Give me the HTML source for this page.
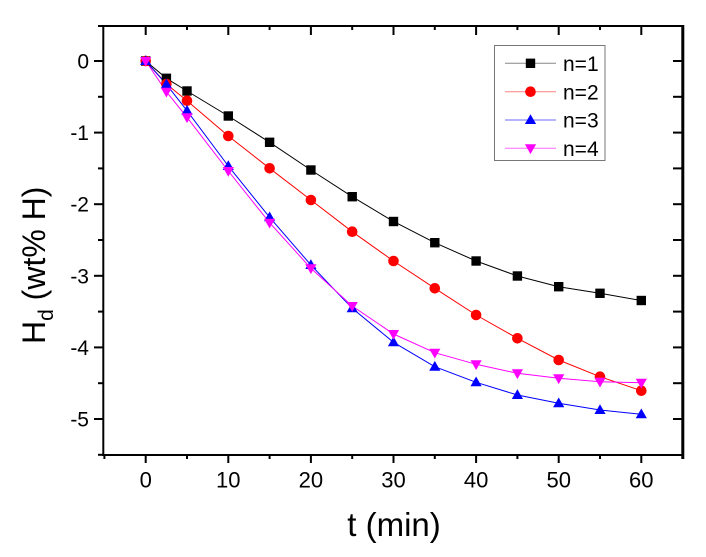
<!DOCTYPE html>
<html><head><meta charset="utf-8"><style>
html,body{margin:0;padding:0;background:#fff;}
svg{display:block;font-family:"Liberation Sans",Arial,sans-serif;}
</style></head><body>
<svg width="706" height="557" viewBox="0 0 706 557" xmlns="http://www.w3.org/2000/svg">
<rect x="0" y="0" width="706" height="557" fill="#fff"/>
<!-- ticks left (outward) -->
<g stroke="#000" stroke-width="2">
<line x1="94" y1="61" x2="103" y2="61"/>
<line x1="94" y1="132.6" x2="103" y2="132.6"/>
<line x1="94" y1="204.2" x2="103" y2="204.2"/>
<line x1="94" y1="275.8" x2="103" y2="275.8"/>
<line x1="94" y1="347.4" x2="103" y2="347.4"/>
<line x1="94" y1="419" x2="103" y2="419"/>
<line x1="98" y1="96.8" x2="103" y2="96.8"/>
<line x1="98" y1="168.4" x2="103" y2="168.4"/>
<line x1="98" y1="240" x2="103" y2="240"/>
<line x1="98" y1="311.6" x2="103" y2="311.6"/>
<line x1="98" y1="383.2" x2="103" y2="383.2"/>
<line x1="98" y1="454.8" x2="103" y2="454.8"/>
<!-- right ticks inward -->
<line x1="673" y1="61" x2="683" y2="61"/>
<line x1="673" y1="96.8" x2="683" y2="96.8"/>
<line x1="673" y1="132.6" x2="683" y2="132.6"/>
<line x1="673" y1="168.4" x2="683" y2="168.4"/>
<line x1="673" y1="204.2" x2="683" y2="204.2"/>
<line x1="673" y1="240" x2="683" y2="240"/>
<line x1="673" y1="275.8" x2="683" y2="275.8"/>
<line x1="673" y1="311.6" x2="683" y2="311.6"/>
<line x1="673" y1="347.4" x2="683" y2="347.4"/>
<line x1="673" y1="383.2" x2="683" y2="383.2"/>
<line x1="673" y1="419" x2="683" y2="419"/>
<!-- bottom ticks outward -->
<line x1="145.7" y1="455" x2="145.7" y2="463"/>
<line x1="228.3" y1="455" x2="228.3" y2="463"/>
<line x1="310.9" y1="455" x2="310.9" y2="463"/>
<line x1="393.5" y1="455" x2="393.5" y2="463"/>
<line x1="476.1" y1="455" x2="476.1" y2="463"/>
<line x1="558.7" y1="455" x2="558.7" y2="463"/>
<line x1="641.3" y1="455" x2="641.3" y2="463"/>
<line x1="104.4" y1="455" x2="104.4" y2="459"/>
<line x1="187" y1="455" x2="187" y2="459"/>
<line x1="269.6" y1="455" x2="269.6" y2="459"/>
<line x1="352.2" y1="455" x2="352.2" y2="459"/>
<line x1="434.8" y1="455" x2="434.8" y2="459"/>
<line x1="517.4" y1="455" x2="517.4" y2="459"/>
<line x1="600" y1="455" x2="600" y2="459"/>
<!-- top ticks inward -->
<line x1="145.7" y1="26" x2="145.7" y2="35"/>
<line x1="228.3" y1="26" x2="228.3" y2="35"/>
<line x1="310.9" y1="26" x2="310.9" y2="35"/>
<line x1="393.5" y1="26" x2="393.5" y2="35"/>
<line x1="476.1" y1="26" x2="476.1" y2="35"/>
<line x1="558.7" y1="26" x2="558.7" y2="35"/>
<line x1="641.3" y1="26" x2="641.3" y2="35"/>
<line x1="187" y1="26" x2="187" y2="30"/>
<line x1="269.6" y1="26" x2="269.6" y2="30"/>
<line x1="352.2" y1="26" x2="352.2" y2="30"/>
<line x1="434.8" y1="26" x2="434.8" y2="30"/>
<line x1="517.4" y1="26" x2="517.4" y2="30"/>
<line x1="600" y1="26" x2="600" y2="30"/>
</g>
<!-- frame -->
<line x1="98" y1="26" x2="684" y2="26" stroke="#000" stroke-width="2"/>
<line x1="103.3" y1="25" x2="103.3" y2="456" stroke="#000" stroke-width="2"/>
<line x1="102" y1="455" x2="684" y2="455" stroke="#000" stroke-width="2"/>
<line x1="682.8" y1="25" x2="682.8" y2="459" stroke="#000" stroke-width="3"/>

<!-- y tick labels -->
<g font-size="21" text-anchor="end" fill="#000">
<text x="89" y="68.5">0</text>
<text x="89" y="140.1">-1</text>
<text x="89" y="211.7">-2</text>
<text x="89" y="283.3">-3</text>
<text x="89" y="354.9">-4</text>
<text x="89" y="426.5">-5</text>
</g>
<!-- x tick labels -->
<g font-size="22" text-anchor="middle" fill="#000">
<text x="145.7" y="487.5">0</text>
<text x="228.3" y="487.5">10</text>
<text x="310.9" y="487.5">20</text>
<text x="393.5" y="487.5">30</text>
<text x="476.1" y="487.5">40</text>
<text x="558.7" y="487.5">50</text>
<text x="641.3" y="487.5">60</text>
</g>
<!-- axis titles -->
<text x="394" y="536" font-size="33" text-anchor="middle" fill="#000">t (min)</text>
<text transform="translate(45,344) rotate(-90)" font-size="32" fill="#000">H<tspan font-size="21" dy="8">d</tspan><tspan dy="-8"> (wt% H)</tspan></text>

<!-- series lines -->
<g fill="none" stroke-width="1">
<polyline stroke="#000" points="145.7,61 166.4,78.3 187,91 228.3,116 269.6,142.3 310.9,170 352.2,196.7 393.5,221.5 434.8,242.7 476.1,261 517.4,276 558.7,286.7 600,293.3 641.3,300.5"/>
<polyline stroke="#ff0000" points="145.7,61 166.4,84 187,100.7 228.3,136 269.6,168.3 310.9,200 352.2,231.7 393.5,261 434.8,288.3 476.1,315 517.4,338.3 558.7,360 600,376.7 641.3,390.7"/>
<polyline stroke="#0000ff" points="145.7,61 166.4,84.3 187,110.7 228.3,166 269.6,217.3 310.9,265 352.2,308.3 393.5,342.3 434.8,366.7 476.1,382.3 517.4,395 558.7,403.3 600,410 641.3,414.3"/>
<polyline stroke="#ff00ff" points="145.7,61 166.4,91.7 187,117.3 228.3,171 269.6,222.7 310.9,268.3 352.2,306 393.5,334 434.8,352.7 476.1,364.3 517.4,373.3 558.7,378.3 600,381.7 641.3,382.7"/>
</g>

<defs>
<rect id="sq" x="-4.7" y="-4.7" width="9.4" height="9.4" fill="#000"/>
<circle id="ci" r="5.3" fill="#ff0000"/>
<polygon id="tu" points="0,-5.8 5.6,4 -5.6,4" fill="#0000ff"/>
<polygon id="td" points="0,5.8 5.6,-4 -5.6,-4" fill="#ff00ff"/>
</defs>
<!-- n=1 markers -->
<g>
<use href="#sq" x="145.7" y="61"/><use href="#sq" x="166.4" y="78.3"/><use href="#sq" x="187" y="91"/><use href="#sq" x="228.3" y="116"/><use href="#sq" x="269.6" y="142.3"/><use href="#sq" x="310.9" y="170"/><use href="#sq" x="352.2" y="196.7"/><use href="#sq" x="393.5" y="221.5"/><use href="#sq" x="434.8" y="242.7"/><use href="#sq" x="476.1" y="261"/><use href="#sq" x="517.4" y="276"/><use href="#sq" x="558.7" y="286.7"/><use href="#sq" x="600" y="293.3"/><use href="#sq" x="641.3" y="300.5"/>
</g>
<g>
<use href="#ci" x="145.7" y="61"/><use href="#ci" x="166.4" y="84"/><use href="#ci" x="187" y="100.7"/><use href="#ci" x="228.3" y="136"/><use href="#ci" x="269.6" y="168.3"/><use href="#ci" x="310.9" y="200"/><use href="#ci" x="352.2" y="231.7"/><use href="#ci" x="393.5" y="261"/><use href="#ci" x="434.8" y="288.3"/><use href="#ci" x="476.1" y="315"/><use href="#ci" x="517.4" y="338.3"/><use href="#ci" x="558.7" y="360"/><use href="#ci" x="600" y="376.7"/><use href="#ci" x="641.3" y="390.7"/>
</g>
<g>
<use href="#tu" x="145.7" y="61"/><use href="#tu" x="166.4" y="84.3"/><use href="#tu" x="187" y="110.7"/><use href="#tu" x="228.3" y="166"/><use href="#tu" x="269.6" y="217.3"/><use href="#tu" x="310.9" y="265"/><use href="#tu" x="352.2" y="308.3"/><use href="#tu" x="393.5" y="342.3"/><use href="#tu" x="434.8" y="366.7"/><use href="#tu" x="476.1" y="382.3"/><use href="#tu" x="517.4" y="395"/><use href="#tu" x="558.7" y="403.3"/><use href="#tu" x="600" y="410"/><use href="#tu" x="641.3" y="414.3"/>
</g>
<g>
<use href="#td" x="145.7" y="61"/><use href="#td" x="166.4" y="91.7"/><use href="#td" x="187" y="117.3"/><use href="#td" x="228.3" y="171"/><use href="#td" x="269.6" y="222.7"/><use href="#td" x="310.9" y="268.3"/><use href="#td" x="352.2" y="306"/><use href="#td" x="393.5" y="334"/><use href="#td" x="434.8" y="352.7"/><use href="#td" x="476.1" y="364.3"/><use href="#td" x="517.4" y="373.3"/><use href="#td" x="558.7" y="378.3"/><use href="#td" x="600" y="381.7"/><use href="#td" x="641.3" y="382.7"/>
</g>

<!-- legend -->
<rect x="494.5" y="45.5" width="110.5" height="115" fill="#fff" stroke="#777" stroke-width="1"/>
<line x1="505" y1="63.3" x2="556" y2="63.3" stroke="#888" stroke-width="1"/>
<line x1="505" y1="91.7" x2="556" y2="91.7" stroke="#ff8080" stroke-width="1"/>
<line x1="505" y1="120" x2="556" y2="120" stroke="#6a6aff" stroke-width="1"/>
<line x1="505" y1="148.3" x2="556" y2="148.3" stroke="#ff6aff" stroke-width="1"/>
<use href="#sq" x="530.5" y="63.3"/>
<use href="#ci" x="530.5" y="91.7"/>
<use href="#tu" x="530.5" y="120"/>
<use href="#td" x="530.5" y="148.3"/>
<g font-size="21" fill="#000">
<text x="563" y="71">n=1</text>
<text x="563" y="99.4">n=2</text>
<text x="563" y="127.7">n=3</text>
<text x="563" y="156">n=4</text>
</g>
</svg>
</body></html>
